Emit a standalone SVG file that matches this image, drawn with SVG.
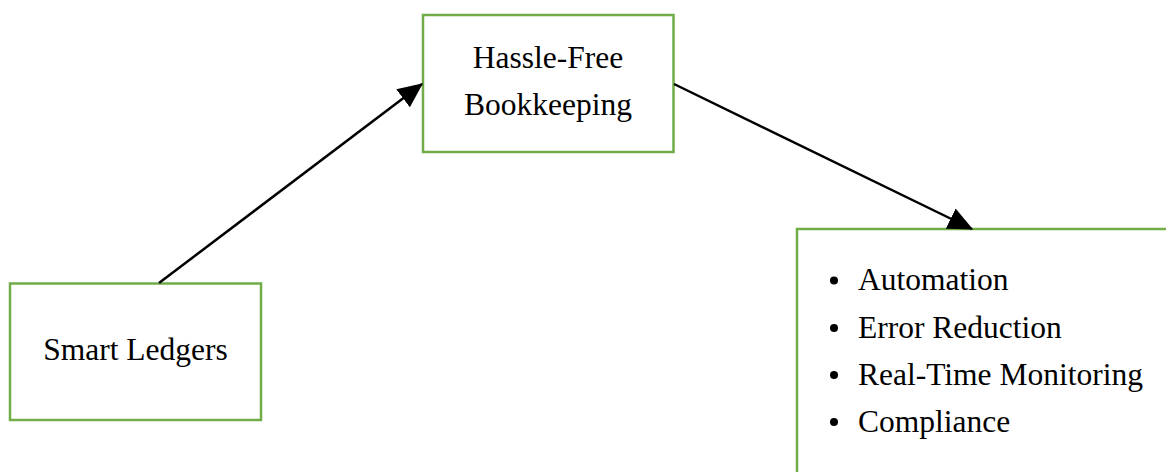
<svg xmlns="http://www.w3.org/2000/svg" width="1166" height="472" viewBox="0 0 1166 472">
<style>
.box{fill:#fff;stroke:#70AD47;stroke-width:2.5}
.t{font-family:"Liberation Serif","Times New Roman",serif;font-size:31.5px;fill:#000}
.c{stroke:#000;stroke-width:2.5;fill:none}
</style>
<defs>
<marker id="ah" markerWidth="10" markerHeight="9" refX="9.5" refY="4.5" orient="auto" markerUnits="strokeWidth">
<path d="M0,0 L10,4.5 L0,9 z" fill="#000"/>
</marker>
</defs>
<rect width="1166" height="472" fill="#fff"/>
<g id="n1">
<rect class="box" x="10" y="283.5" width="251" height="136.5"/>
<text class="t" x="135.5" y="360" text-anchor="middle">Smart Ledgers</text>
</g>
<g id="n2">
<rect class="box" x="423" y="15" width="250.5" height="137"/>
<text class="t" x="548" y="68" text-anchor="middle">Hassle-Free</text>
<text class="t" x="548" y="115" text-anchor="middle">Bookkeeping</text>
</g>
<g id="n3">
<rect class="box" x="797" y="229" width="380" height="260"/>
<circle cx="834" cy="280.5" r="4" fill="#000"/>
<circle cx="834" cy="328" r="4" fill="#000"/>
<circle cx="834" cy="375" r="4" fill="#000"/>
<circle cx="834" cy="422" r="4" fill="#000"/>
<text class="t" x="858" y="290">Automation</text>
<text class="t" x="858" y="337.5">Error Reduction</text>
<text class="t" x="858" y="384.5">Real-Time Monitoring</text>
<text class="t" x="858" y="431.5">Compliance</text>
</g>
<g id="connectors">
<line class="c" x1="159" y1="283" x2="422" y2="84" marker-end="url(#ah)"/>
<line class="c" x1="674" y1="84" x2="972" y2="229" marker-end="url(#ah)"/>
</g>
</svg>
